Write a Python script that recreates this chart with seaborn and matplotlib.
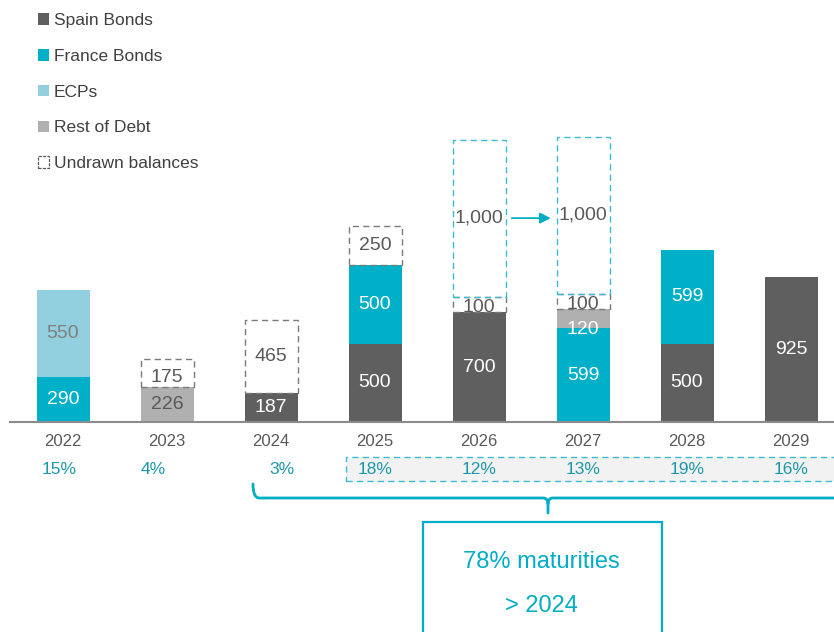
import numpy as np
import matplotlib
matplotlib.use("Agg")
import matplotlib.pyplot as plt
import seaborn as sns
from matplotlib.patches import Patch, Rectangle, PathPatch
from matplotlib.path import Path

# ---- data -------------------------------------------------------------
years = ["2022", "2023", "2024", "2025", "2026", "2027", "2028", "2029"]
spain_bonds = [0, 0, 187, 500, 700, 0, 500, 925]
france_bonds = [290, 0, 0, 500, 0, 599, 599, 0]
ecps = [550, 0, 0, 0, 0, 0, 0, 0]
rest_of_debt = [0, 226, 0, 0, 0, 120, 0, 0]
undrawn_balances = [0, 175, 465, 250, 100, 100, 0, 0]
undrawn_facility = [0, 0, 0, 0, 1000, 1000, 0, 0]
maturity_share = ["15%", "4%", "3%", "18%", "12%", "13%", "19%", "16%"]
legend_labels = ["Spain Bonds", "France Bonds", "ECPs", "Rest of Debt", "Undrawn balances"]
summary_lines = ["78% maturities", "> 2024"]

# ---- style ------------------------------------------------------------
SPAIN = "#5f5f5f"
FRANCE = "#00afc8"
ECP = "#92cfdf"
REST = "#b0b0b0"
DASH_GREY = "#7a7a7a"
DASH_CYAN = "#3bbcd0"
TEAL_TEXT = "#1b97aa"
CYAN_LINE = "#00adc6"
TEXT_GREY = "#595959"

W, H = 834, 632
sns.set_theme(style="white")
plt.rcParams["font.family"] = ["Liberation Sans", "DejaVu Sans"]


def fx(px):
    return px / W


def fy(py):
    return 1 - py / H


def hide_empty(container):
    for patch in container.patches:
        if patch.get_height() == 0:
            patch.set_visible(False)


fig = plt.figure(figsize=(W / 100, H / 100), dpi=100)
ax = fig.add_axes([fx(10), fy(422), 824 / W, 422 / H])

BAR_W = 0.51
dash = (0, (4.5, 3))
VALUE_FS = 14

# ---- stacked debt maturities -----------------------------------------
segments = [
    (spain_bonds, SPAIN, ["white"] * 8),
    (france_bonds, FRANCE, ["white"] * 8),
    (ecps, ECP, ["#7f7f7f"] * 8),
    (rest_of_debt, REST, [TEXT_GREY, TEXT_GREY, TEXT_GREY, TEXT_GREY, TEXT_GREY, "white", TEXT_GREY, TEXT_GREY]),
]
bottom = np.zeros(len(years))
for values, color, label_colors in segments:
    sns.barplot(x=years, y=values, bottom=bottom.copy(), color=color, saturation=1,
                width=BAR_W, errorbar=None, linewidth=0, ax=ax)
    cont = ax.containers[-1]
    hide_empty(cont)
    labels = [f"{v:,}" if v else "" for v in values]
    texts = ax.bar_label(cont, labels=labels, label_type="center", fontsize=VALUE_FS)
    for t, c in zip(texts, label_colors):
        t.set_color(c)
    if values is rest_of_debt:
        texts[5].xyann = (0, -8)
    bottom += np.array(values)

# ---- undrawn balances (dashed outlines) -------------------------------
sns.barplot(x=years, y=undrawn_balances, bottom=bottom.copy(), color=DASH_GREY,
            fill=False, saturation=1, width=BAR_W, errorbar=None,
            linewidth=1.0, linestyle=dash, ax=ax)
cont = ax.containers[-1]
hide_empty(cont)
texts = ax.bar_label(cont, labels=[f"{v:,}" if v else "" for v in undrawn_balances],
                     label_type="center", fontsize=VALUE_FS, color=TEXT_GREY)
texts[1].xyann = (0, -3)
texts[4].xyann = (0, -2)
texts[5].xyann = (0, -2)
top_drawn = bottom + np.array(undrawn_balances)

sns.barplot(x=years, y=undrawn_facility, bottom=top_drawn.copy(), color=DASH_CYAN,
            fill=False, saturation=1, width=BAR_W, errorbar=None,
            linewidth=1.0, linestyle=dash, ax=ax)
cont = ax.containers[-1]
hide_empty(cont)
ax.bar_label(cont, labels=[f"{v:,}" if v else "" for v in undrawn_facility],
             label_type="center", fontsize=VALUE_FS, color=TEXT_GREY)

# arrow linking the two facility years
arrow_y = top_drawn[4] + undrawn_facility[4] / 2
ax.annotate("", xy=(5 - BAR_W / 2 - 0.055, arrow_y), xytext=(4 + BAR_W / 2 + 0.06, arrow_y),
            arrowprops=dict(arrowstyle="-|>", color=CYAN_LINE, lw=1.3, mutation_scale=16,
                            shrinkA=0, shrinkB=0))

# ---- axes cosmetics ---------------------------------------------------
ax.set_xlim(-0.51, 7.413)
ax.set_ylim(0, 2691)
ax.set_yticks([])
ax.set_ylabel("")
for side in ["top", "right", "left"]:
    ax.spines[side].set_visible(False)
ax.spines["bottom"].set_color("#8c8c8c")
ax.spines["bottom"].set_linewidth(1.5)
ax.tick_params(axis="x", length=0, pad=9, labelsize=12, labelcolor=TEXT_GREY)

# ---- share of maturities row -----------------------------------------
share_row = Rectangle((fx(346), fy(481)), fx(840) - fx(346), (481 - 457) / H,
                      transform=fig.transFigure, facecolor="#f2f2f2",
                      edgecolor=DASH_CYAN, linewidth=1.0, linestyle=dash)
fig.add_artist(share_row)

share_dx = [-4, -14, 11, 0, 0, 0, 0, 0]
for i, (s, dx) in enumerate(zip(maturity_share, share_dx)):
    xpix = ax.transData.transform((i, 0))[0] + dx
    fig.text(xpix / W, fy(469), s, ha="center", va="center", fontsize=12.5,
             color=TEAL_TEXT)

# ---- bracket and summary box -----------------------------------------
verts = [(253, 484), (253, 498), (259, 498), (543, 498),
         (548, 498), (548, 504), (548, 513),
         (548, 504), (548, 498), (553, 498), (840, 498)]
codes = [Path.MOVETO, Path.CURVE3, Path.CURVE3, Path.LINETO,
         Path.CURVE3, Path.CURVE3, Path.LINETO,
         Path.MOVETO, Path.CURVE3, Path.CURVE3, Path.LINETO]
bracket = PathPatch(Path([(fx(x), fy(y)) for x, y in verts], codes),
                    transform=fig.transFigure, facecolor="none",
                    edgecolor=CYAN_LINE, linewidth=2.0, capstyle="round")
fig.add_artist(bracket)

summary_box = Rectangle((fx(423), fy(640)), fx(662) - fx(423), (640 - 522) / H,
                        transform=fig.transFigure, facecolor="none",
                        edgecolor=CYAN_LINE, linewidth=1.6)
fig.add_artist(summary_box)
for line, py in zip(summary_lines, [562, 606]):
    fig.text(fx(541), fy(py), line, ha="center", va="center", fontsize=17,
             color=CYAN_LINE)

# ---- legend -----------------------------------------------------------
handles = [
    Patch(facecolor=SPAIN, edgecolor="none"),
    Patch(facecolor=FRANCE, edgecolor="none"),
    Patch(facecolor=ECP, edgecolor="none"),
    Patch(facecolor=REST, edgecolor="none"),
    Patch(facecolor="none", edgecolor=TEXT_GREY, linewidth=0.9, linestyle=(0, (2.5, 1))),
]
fig.legend(handles, legend_labels, loc="upper left", bbox_to_anchor=(fx(38), fy(13)),
           frameon=False, fontsize=12.5, labelspacing=1.2, handlelength=0.65,
           handleheight=0.65, handletextpad=0.25, borderaxespad=0, borderpad=0,
           labelcolor="#404040")

fig.savefig("out.png", dpi=100)
